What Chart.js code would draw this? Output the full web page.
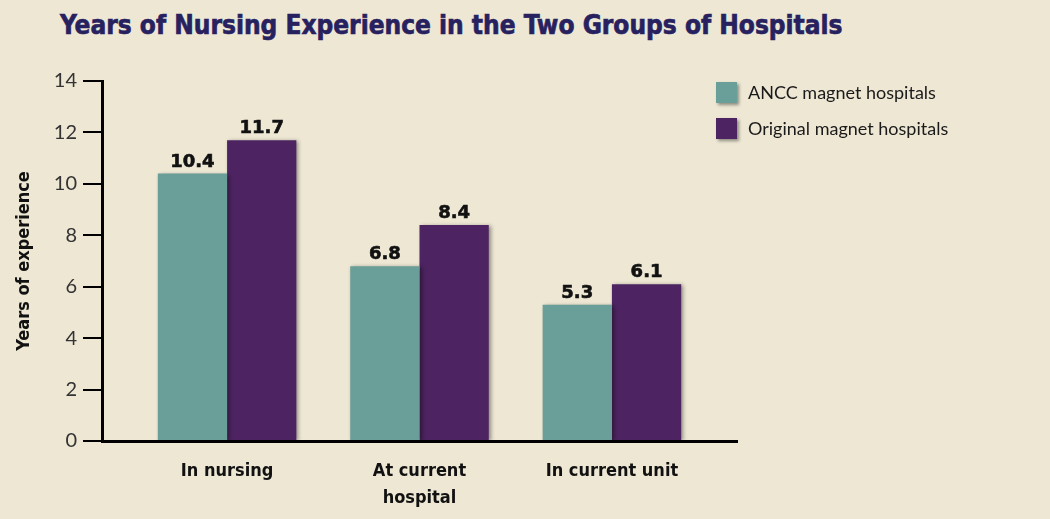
<!DOCTYPE html>
<html>
<head>
<meta charset="utf-8">
<script src="https://cdn.jsdelivr.net/npm/chart.js@4"></script>
<style>
    html, body { margin: 0; padding: 0; background: #ede7d4; }
    #wrap { position: relative; width: 1050px; height: 519px; }
    #title {
        position: absolute; left: 60px; top: 10px; margin: 0;
        font: bold 26px "DejaVu Sans Condensed", "DejaVu Sans", sans-serif;
        -webkit-text-stroke: 0.6px #27215f;
        color: #27215f; white-space: nowrap;
    }
    canvas { position: absolute; left: 0; top: 0; }
</style>
</head>
<body>
<div id="wrap">
    <h1 id="title">Years of Nursing Experience in the Two Groups of Hospitals</h1>
    <canvas id="chart" width="1050" height="519"></canvas>
</div>
<script>
// Chart data
const categories = [['In nursing'], ['At current', 'hospital'], ['In current unit']];
const seriesNames = ['ANCC magnet hospitals', 'Original magnet hospitals'];
const anccValues = [10.4, 6.8, 5.3];
const originalValues = [11.7, 8.4, 6.1];
const yTicks = [0, 2, 4, 6, 8, 10, 12, 14];

const TEAL = '#6a9e98';
const PURPLE = '#4d2461';

// Value labels above each bar
const valueLabels = {
    id: 'valueLabels',
    afterDatasetsDraw(chart) {
        const ctx = chart.ctx;
        ctx.save();
        ctx.font = 'bold 18px "DejaVu Sans", sans-serif';
        ctx.fillStyle = '#111';
        ctx.strokeStyle = '#111';
        ctx.lineWidth = 0.6;
        ctx.textAlign = 'center';
        ctx.textBaseline = 'alphabetic';
        chart.data.datasets.forEach((ds, i) => {
            chart.getDatasetMeta(i).data.forEach((bar, j) => {
                const txt = ds.data[j].toFixed(1);
                ctx.fillText(txt, bar.x, bar.y - 7);
                ctx.strokeText(txt, bar.x, bar.y - 7);
            });
        });
        ctx.restore();
    }
};

// Soft shadow behind bars
const barShadow = {
    id: 'barShadow',
    beforeDatasetDraw(chart) {
        const ctx = chart.ctx;
        ctx.save();
        ctx.shadowColor = 'rgba(0,0,0,0.4)';
        ctx.shadowBlur = 4;
        ctx.shadowOffsetX = 2;
        ctx.shadowOffsetY = 1;
    },
    afterDatasetDraw(chart) {
        chart.ctx.restore();
    }
};

// Legend drawn top right, inside the plot
const sideLegend = {
    id: 'sideLegend',
    afterDraw(chart) {
        const ctx = chart.ctx;
        ctx.save();
        chart.data.datasets.forEach((ds, i) => {
            const y = 82 + i * 36;
            ctx.shadowColor = 'rgba(0,0,0,0.4)';
            ctx.shadowBlur = 3;
            ctx.shadowOffsetX = 2;
            ctx.shadowOffsetY = 2;
            ctx.fillStyle = ds.backgroundColor;
            ctx.fillRect(716, y, 21, 21);
            ctx.shadowColor = 'transparent';
            ctx.font = '18px Lato, sans-serif';
            ctx.fillStyle = '#1a1a1a';
            ctx.textBaseline = 'middle';
            ctx.fillText(ds.label, 748, y + 11);
        });
        ctx.restore();
    }
};

new Chart(document.getElementById('chart'), {
    type: 'bar',
    data: {
        labels: categories,
        datasets: [
            { label: seriesNames[0], data: anccValues, backgroundColor: TEAL },
            { label: seriesNames[1], data: originalValues, backgroundColor: PURPLE }
        ]
    },
    options: {
        responsive: false,
        animation: false,
        events: [],
        layout: { padding: { top: 81, right: 313, bottom: 0, left: 0 } },
        datasets: {
            bar: { categoryPercentage: 0.72, barPercentage: 1 }
        },
        plugins: {
            legend: { display: false },
            title: { display: false },
            tooltip: { enabled: false }
        },
        scales: {
            x: {
                grid: { display: false, drawTicks: false },
                border: { color: '#000', width: 3 },
                ticks: {
                    color: '#111',
                    padding: 17,
                    maxRotation: 0,
                    font: { family: '"DejaVu Sans Condensed", "DejaVu Sans", sans-serif', weight: 'bold', size: 18, lineHeight: 1.5 }
                },
                afterFit(scale) { scale.height = 78; },
                // leave extra room either side of the three groups
                afterBuildTicks(scale) {
                    scale._startValue = -0.65;
                    scale._valueRange = 3.3;
                }
            },
            y: {
                min: 0,
                max: 14,
                afterBuildTicks(scale) {
                    scale.ticks = yTicks.map(v => ({ value: v }));
                },
                grid: { drawOnChartArea: false, tickLength: 19, color: '#000', lineWidth: 2 },
                border: { color: '#000', width: 3 },
                ticks: {
                    color: '#333',
                    padding: 6,
                    font: { family: 'Lato, sans-serif', size: 20 }
                },
                title: {
                    display: true,
                    text: 'Years of experience',
                    color: '#111',
                    padding: { top: 14, bottom: 0 },
                    font: { family: '"DejaVu Sans Condensed", "DejaVu Sans", sans-serif', weight: 'bold', size: 18 }
                },
                afterFit(scale) { scale.width = 102; }
            }
        }
    },
    plugins: [barShadow, valueLabels, sideLegend]
});
</script>
</body>
</html>
